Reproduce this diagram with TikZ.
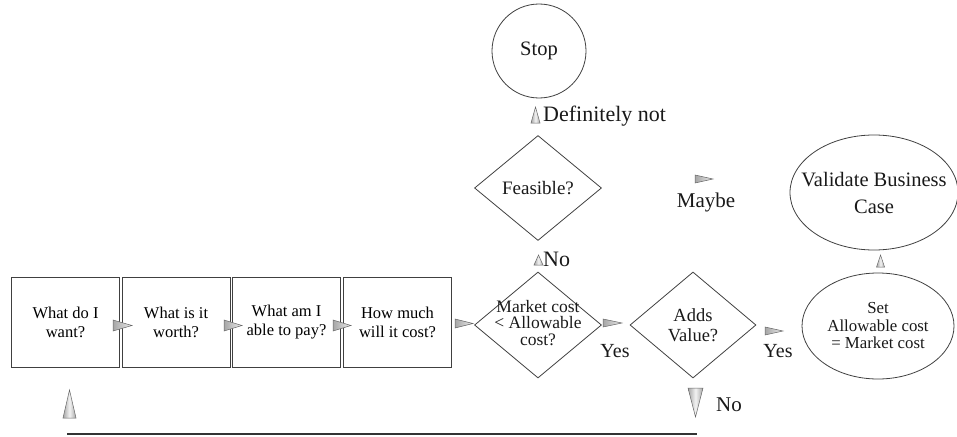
\documentclass[tikz,border=0pt]{standalone}
\usepackage{fontspec}
\setmainfont{Liberation Serif}
\newfontfamily\tmsfont{Liberation Serif}
\usetikzlibrary{shapes.geometric,calc}
\newcommand\fsz[2]{\tmsfont\fontsize{#1}{#2}\selectfont}
\begin{document}
\begin{tikzpicture}[x=1pt,y=-1pt,
  outline/.style={draw=black!75,line width=0.8pt},
  qbox/.style={outline,minimum width=108pt,minimum height=90pt,inner sep=0pt,
    align=center,font=\fsz{16.5}{19}},
  decision/.style={outline,diamond,minimum width=127pt,minimum height=106pt,inner sep=0pt},
  terminal/.style={outline,ellipse,inner sep=0pt},
  txt/.style={inner sep=0pt,align=center,text=black!90},
  mkh/.style={draw=black!60,line width=0.5pt,left color=gray!70,right color=gray!15},
  mkv/.style={draw=black!60,line width=0.5pt,left color=gray!70,right color=gray!70,middle color=gray!10},
]
\useasboundingbox (0,0) rectangle (957,436);

% question boxes
\node[qbox] (b1) at (65.5,322) {What do I\\want?};
\node[qbox] (b2) at (176,322) {What is it\\worth?};
\node[qbox] (b3) at (286.5,322) {What am I\\able to pay?};
\node[qbox] (b4) at (397.5,322) {How much\\will it cost?};

% decisions
\node[decision] (d1) at (538,325) {};
\node[txt,font=\fsz{17.5}{16.5}] at ([yshift=2pt]d1.center) {Market cost\\< Allowable\\cost?};
\node[decision,minimum width=126pt] (d2) at (693,325) {};
\node[txt,font=\fsz{18.5}{20}] at (d2) {Adds\\Value?};
\node[decision,minimum height=105pt] (d3) at (538,188) {};
\node[txt,font=\fsz{19}{22}] at (d3) {Feasible?};

% terminals
\node[terminal,minimum width=152pt,minimum height=106pt] (e1) at (878,326) {};
\node[txt,font=\fsz{16.8}{17.5}] at (e1) {Set\\Allowable cost\\= Market cost};
\node[terminal,minimum width=168pt,minimum height=115pt] (e2) at (874,192.5) {};
\node[txt,font=\fsz{20.5}{27}] at (e2) {Validate Business\\Case};
\node[terminal,circle,minimum size=94pt] (stop) at (539,51) {};
\node[txt,font=\fsz{20.5}{24}] at (stop) {Stop};

% flow markers
\path[mkh] (113,320) -- ++(19,5.5) -- ++(-19,5.5) -- cycle;
\path[mkh] (224,320) -- ++(18,5.5) -- ++(-18,5.5) -- cycle;
\path[mkh] (333,320) -- ++(18,5.5) -- ++(-18,5.5) -- cycle;
\path[mkh] (455,319) -- ++(18,4.5) -- ++(-18,4.5) -- cycle;
\path[mkh] (603,319) -- ++(19,4) -- ++(-19,4) -- cycle;
\path[mkh] (765,327) -- ++(18,4) -- ++(-18,4) -- cycle;
\path[mkh] (695,175) -- ++(18,4) -- ++(-18,4) -- cycle;
\path[mkv] (876.5,267) -- ++(4,-12) -- ++(4,12) -- cycle;
\path[mkv] (531,123) -- ++(4.5,-16) -- ++(4.5,16) -- cycle;
\path[mkv] (534,265) -- ++(4.5,-10) -- ++(4.5,10) -- cycle;
\path[mkv] (63,418) -- ++(6.5,-28) -- ++(6.5,28) -- cycle;
\path[mkv] (688,388) -- ++(7.5,29) -- ++(7.5,-29) -- cycle;

% labels
\node[txt,font=\fsz{22}{24},anchor=west] (lDef) at (543,116) {Definitely not};
\node[txt,font=\fsz{22}{24},anchor=west] (lNo1) at (543,259) {No};
\node[txt,font=\fsz{21}{24}] (lMaybe) at (706,202) {Maybe};
\node[txt,font=\fsz{20}{22}] (lYes1) at (615,351) {Yes};
\node[txt,font=\fsz{20}{22}] (lYes2) at (778,351) {Yes};
\node[txt,font=\fsz{21}{24},anchor=west] (lNo2) at (716,405) {No};

% return line
\coordinate (retL) at (67,434);
\coordinate (retR) at (697,434);
\draw[black!80,line width=1.3pt] (retL) -- (retR);
\end{tikzpicture}
\end{document}
